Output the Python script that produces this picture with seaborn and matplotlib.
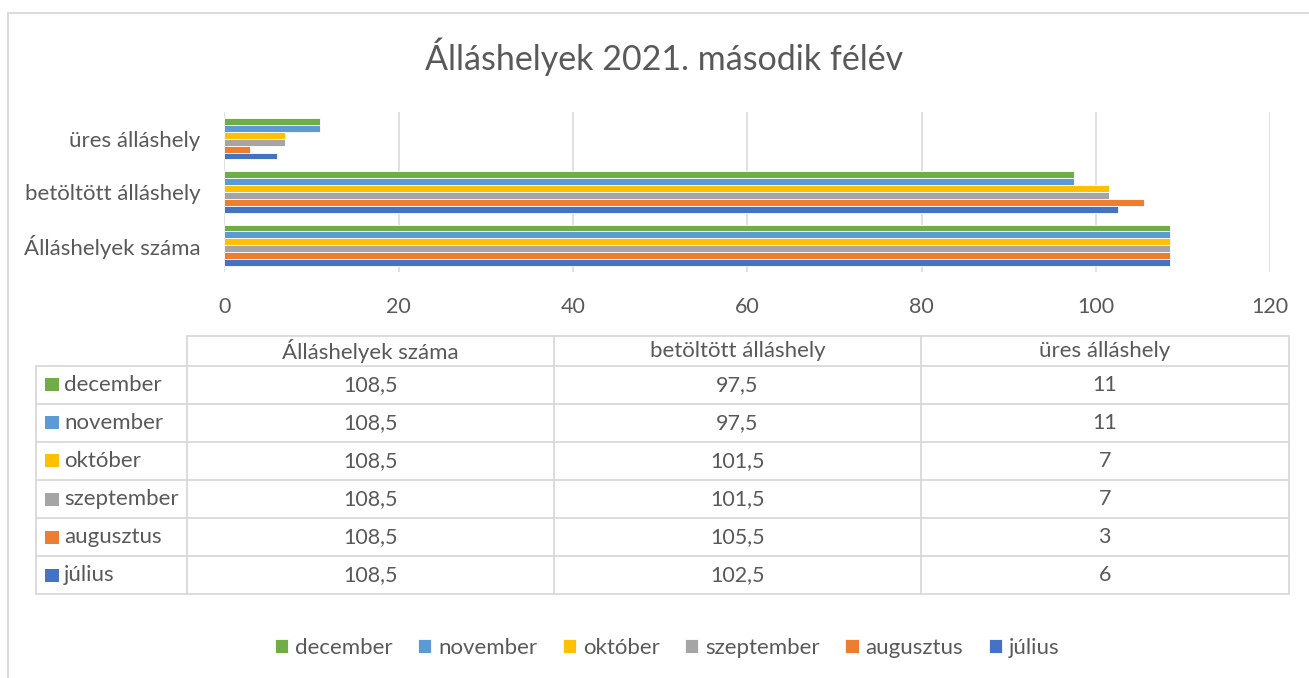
import pandas as pd
import matplotlib.pyplot as plt
import seaborn as sns
from matplotlib.patches import Rectangle

# Adatok
honapok = ["július", "augusztus", "szeptember", "október", "november", "december"]
szinek = ["#4472C4", "#ED7D31", "#A5A5A5", "#FFC000", "#5B9BD5", "#70AD47"]
kategoriak = ["Álláshelyek száma", "betöltött álláshely", "üres álláshely"]
allashelyek_szama = [108.5, 108.5, 108.5, 108.5, 108.5, 108.5]
betoltott = [102.5, 105.5, 101.5, 101.5, 97.5, 97.5]
ures = [6, 3, 7, 7, 11, 11]
x_ticks = [0, 20, 40, 60, 80, 100, 120]
cim = "Álláshelyek 2021. második félév"

ertekek = [allashelyek_szama, betoltott, ures]
rows = []
for kat, vals in zip(kategoriak, ertekek):
    for h, v in zip(honapok, vals):
        rows.append({"kategoria": kat, "honap": h, "ertek": v})
df = pd.DataFrame(rows)

sns.set_theme(style="white")
plt.rcParams["font.family"] = ["Lato", "DejaVu Sans"]
TXT = "#595959"
LINE = "#D9D9D9"
FS = 16

W, H = 1309, 678
fig = plt.figure(figsize=(W / 100, H / 100), dpi=100)

# háttér réteg pixel koordinátákkal (keret, cím, táblázat)
bg = fig.add_axes([0, 0, 1, 1])
bg.set_xlim(0, W)
bg.set_ylim(H, 0)
bg.axis("off")

bg.plot([8, 8], [13, H], color=LINE, lw=1.3)
bg.plot([8, W], [13, 13], color=LINE, lw=1.3)
bg.text(664, 57, cim, ha="center", va="center", fontsize=24.5, color=TXT)

# fő diagram
ax = fig.add_axes([224.3 / W, 1 - 271.7 / H, 1046 / W, 159.4 / H])
paletta = dict(zip(honapok, szinek))
sns.barplot(data=df, y="kategoria", x="ertek", hue="honap",
            order=kategoriak[::-1], hue_order=honapok[::-1],
            palette=paletta, saturation=1, width=0.775, errorbar=None,
            orient="h", edgecolor="white", linewidth=0.6, ax=ax)
ax.set_xlim(0, 120)
ax.set_xticks(x_ticks)
ax.set_xlabel("")
ax.set_ylabel("")
ax.grid(axis="x", color=LINE, lw=1.1)
ax.set_axisbelow(True)
for s in ax.spines.values():
    s.set_visible(False)
ax.tick_params(axis="x", length=0, pad=18, labelsize=15.5, labelcolor=TXT)
ax.tick_params(axis="y", length=0, pad=17, labelsize=FS, labelcolor=TXT)

handles, labels = ax.get_legend_handles_labels()
ax.legend_.remove()
fig.legend(handles, labels, loc="center", bbox_to_anchor=(667 / W, 1 - 648 / H),
           ncol=6, frameon=False, fontsize=FS, labelcolor=TXT,
           handlelength=0.6, handleheight=0.6, handletextpad=0.3,
           columnspacing=1.15)

# adattáblázat
col_x = [36, 186.5, 553.8, 921.2, 1288.5]
row_y = [335.7, 365.7, 403.8, 441.9, 480.0, 518.1, 556.2, 594.3]
bg.plot([col_x[1], col_x[-1]], [row_y[0], row_y[0]], color=LINE, lw=1.3)
for y in row_y[1:]:
    bg.plot([col_x[0], col_x[-1]], [y, y], color=LINE, lw=1.3)
bg.plot([col_x[0], col_x[0]], [row_y[1], row_y[-1]], color=LINE, lw=1.3)
for x in col_x[1:]:
    bg.plot([x, x], [row_y[0], row_y[-1]], color=LINE, lw=1.3)

def fmt(v):
    return f"{v:g}".replace(".", ",")

for j, kat in enumerate(kategoriak):
    cx = (col_x[j + 1] + col_x[j + 2]) / 2
    bg.text(cx, (row_y[0] + row_y[1]) / 2, kat, ha="center", va="center",
            fontsize=FS, color=TXT)

for i, h in enumerate(honapok[::-1]):
    idx = honapok.index(h)
    cy = (row_y[i + 1] + row_y[i + 2]) / 2
    bg.add_patch(Rectangle((45, cy - 6.5), 14, 13, color=paletta[h], lw=0))
    bg.text(64, cy, h, ha="left", va="center", fontsize=FS, color=TXT)
    for j, vals in enumerate(ertekek):
        cx = (col_x[j + 1] + col_x[j + 2]) / 2
        bg.text(cx, cy, fmt(vals[idx]), ha="center", va="center",
                fontsize=15.5, color=TXT)

fig.savefig("out.png", dpi=100)
